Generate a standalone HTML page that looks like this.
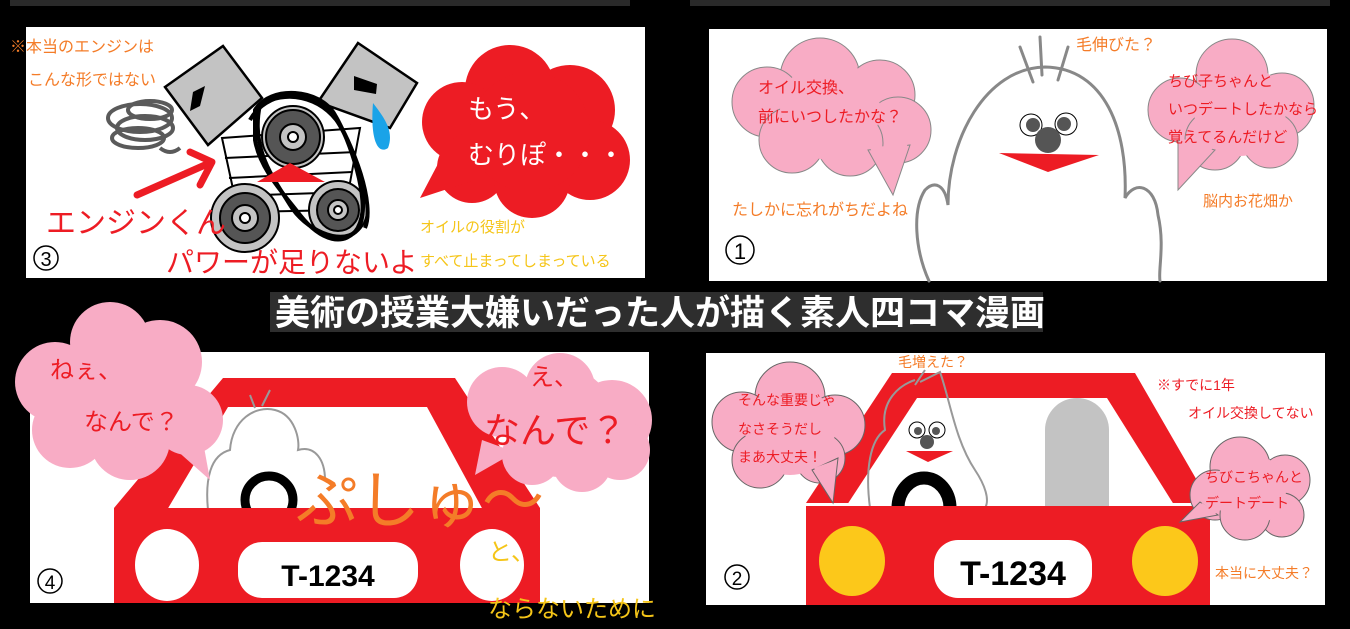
<!DOCTYPE html>
<html><head><meta charset="utf-8"><style>
html,body{margin:0;padding:0;background:#000;}
svg{display:block}
text{font-family:"Liberation Sans","Noto Sans CJK JP",sans-serif;}
</style></head><body>
<svg width="1350" height="629" viewBox="0 0 1350 629" xmlns="http://www.w3.org/2000/svg">
<rect width="1350" height="629" fill="#000"/>
<rect x="10" y="0" width="620" height="6" fill="#2a2a2a"/>
<rect x="690" y="0" width="640" height="6" fill="#2a2a2a"/>
<rect x="26" y="27" width="619" height="251" fill="#fff"/>
<rect x="709" y="29" width="618" height="252" fill="#fff"/>
<rect x="30" y="352" width="619" height="251" fill="#fff"/>
<rect x="706" y="353" width="619" height="252" fill="#fff"/>

<!-- ===== Panel 3 ===== -->
<text x="10" y="52" font-size="16" fill="#f47c28">※本当のエンジンは</text>
<text x="28" y="85" font-size="16" fill="#f47c28">こんな形ではない</text>
<g fill="none" stroke="#5a5a5a" stroke-width="4">
<ellipse cx="140" cy="118" rx="32" ry="14"/>
<ellipse cx="145" cy="128" rx="28" ry="12"/>
<ellipse cx="138" cy="138" rx="26" ry="10"/>
<ellipse cx="150" cy="110" rx="22" ry="9"/>
<path d="M160,148 q10,8 20,0"/>
</g>
<polygon points="222,138 360,128 345,210 238,212" fill="#fff" stroke="#000" stroke-width="2"/>
<g stroke="#000" stroke-width="2"><line x1="225" y1="158" x2="356" y2="152"/><line x1="229" y1="178" x2="352" y2="172"/><line x1="233" y1="196" x2="349" y2="192"/></g>
<polygon points="223,46 262,98 208,145 165,87" fill="#c3c3c3" stroke="#000" stroke-width="2.5"/>
<polygon points="358,43 417,83 390,128 318,102" fill="#c3c3c3" stroke="#000" stroke-width="2.5"/>
<path d="M193,92 L205,86 L200,106 L190,111 Z" fill="#000"/>
<path d="M354,76 L377,84 L376,94 L354,90 Z" fill="#000"/>
<path d="M373,103 C382,115 395,130 388,148 C378,155 370,140 373,103 Z" fill="#1aa3e8"/>
<g stroke="#000" stroke-width="2">
<circle cx="293" cy="137" r="31" fill="#c3c3c3"/><circle cx="293" cy="137" r="27" fill="#555"/><circle cx="293" cy="137" r="13" fill="#c3c3c3"/><circle cx="293" cy="137" r="5" fill="#fff"/>
<circle cx="245" cy="218" r="34" fill="#c3c3c3"/><circle cx="245" cy="218" r="25" fill="#555"/><circle cx="245" cy="218" r="13" fill="#c3c3c3"/><circle cx="245" cy="218" r="5" fill="#fff"/>
<circle cx="338" cy="210" r="29" fill="#c3c3c3"/><circle cx="338" cy="210" r="21" fill="#555"/><circle cx="338" cy="210" r="10" fill="#c3c3c3"/><circle cx="338" cy="210" r="4" fill="#fff"/>
</g>
<g fill="none" stroke="#000" stroke-width="4">
<path d="M255,110 C270,85 320,88 335,115 C350,140 370,200 360,225 C345,250 320,240 300,215 C285,195 260,170 255,140 Z"/>
<path d="M260,105 C285,90 320,95 340,125 C360,160 372,210 355,232 C340,245 305,230 290,205 C275,180 250,150 260,105"/>
<path d="M250,120 C265,92 310,85 330,110 C355,145 375,205 365,228"/>
</g>
<polygon points="257,182 325,182 290,163" fill="#ed1c24"/>
<line x1="137" y1="195" x2="205" y2="165" stroke="#ed1c24" stroke-width="7" stroke-linecap="round"/>
<polyline points="190,152 212,162 200,185" fill="none" stroke="#ed1c24" stroke-width="7" stroke-linecap="round" stroke-linejoin="round"/>
<g fill="#ed1c24">
<circle cx="510" cy="90" r="45"/><circle cx="570" cy="110" r="45"/><circle cx="462" cy="122" r="40"/><circle cx="590" cy="160" r="40"/><circle cx="472" cy="168" r="35"/><circle cx="532" cy="180" r="38"/><circle cx="530" cy="132" r="60"/>
<polygon points="440,160 475,180 420,198"/>
</g>
<text x="468" y="118" font-size="26" fill="#fff">もう、</text>
<text x="468" y="164" font-size="26" fill="#fff">むりぽ・・・</text>
<text x="46" y="233" font-size="30" fill="#ed1c24">エンジンくん</text>
<text x="166" y="272" font-size="28" fill="#ed1c24">パワーが足りないよ</text>
<text x="420" y="232" font-size="15" fill="#f5c518">オイルの役割が</text>
<text x="420" y="266" font-size="15" fill="#f5c518">すべて止まってしまっている</text>
<circle cx="46" cy="258" r="12" fill="#fff" stroke="#000" stroke-width="1.5"/>
<text x="46" y="266" font-size="20" text-anchor="middle" fill="#000">3</text>

<!-- ===== Panel 1 ===== -->
<g fill="#f8acc5" stroke="#888" stroke-width="1">
<circle cx="820" cy="78" r="40"/><circle cx="880" cy="95" r="35"/><circle cx="767" cy="102" r="35"/><circle cx="898" cy="130" r="33"/><circle cx="792" cy="140" r="33"/><circle cx="850" cy="143" r="33"/>
<polygon points="868,150 910,145 893,195"/>
</g>
<g fill="#f8acc5"><circle cx="830" cy="110" r="50"/><polygon points="870,148 908,143 892,188"/></g>
<text x="758" y="93" font-size="16" fill="#ed1c24">オイル交換、</text>
<text x="758" y="122" font-size="16" fill="#ed1c24">前にいつしたかな？</text>
<text x="732" y="215" font-size="16" fill="#f47c28">たしかに忘れがちだよね</text>
<g fill="none" stroke="#888" stroke-width="3" stroke-linecap="round">
<path d="M929,281 C915,250 912,210 925,190 C935,180 945,185 948,205 C948,140 985,68 1045,67 C1105,68 1128,130 1125,198 C1135,180 1155,185 1158,215 C1165,245 1158,270 1160,281"/>
<path d="M1040,37 L1042,75 M1020,47 L1033,82 M1068,47 L1058,80"/>
</g>
<circle cx="1031" cy="125" r="11" fill="#fff" stroke="#000" stroke-width="1"/><circle cx="1033" cy="125" r="7" fill="#555"/>
<circle cx="1066" cy="124" r="11" fill="#fff" stroke="#000" stroke-width="1"/><circle cx="1064" cy="124" r="7" fill="#555"/>
<circle cx="1048" cy="140" r="13" fill="#555"/>
<polygon points="999,153 1099,155 1048,172" fill="#ed1c24"/>
<text x="1076" y="50" font-size="16" fill="#f47c28">毛伸びた？</text>
<g fill="#f8acc5" stroke="#888" stroke-width="1">
<circle cx="1232" cy="75" r="36"/><circle cx="1282" cy="105" r="32"/><circle cx="1180" cy="110" r="32"/><circle cx="1215" cy="140" r="30"/><circle cx="1270" cy="140" r="28"/>
<polygon points="1178,140 1215,150 1178,190"/>
</g>
<g fill="#f8acc5"><circle cx="1240" cy="110" r="46"/><polygon points="1180,138 1213,148 1180,185"/></g>
<text x="1168" y="86" font-size="15" fill="#ed1c24">ちび子ちゃんと</text>
<text x="1168" y="114" font-size="15" fill="#ed1c24">いつデートしたかなら</text>
<text x="1168" y="142" font-size="15" fill="#ed1c24">覚えてるんだけど</text>
<text x="1203" y="206" font-size="15" fill="#f47c28">脳内お花畑か</text>
<circle cx="740" cy="250" r="14" fill="#fff" stroke="#000" stroke-width="1.5"/>
<text x="740" y="259" font-size="22" text-anchor="middle" fill="#000">1</text>

<rect x="270" y="292" width="773" height="40" fill="#2e2e2e"/>
<text x="275" y="325" font-size="35" font-weight="bold" fill="#fff">美術の授業大嫌いだった人が描く素人四コマ漫画</text>

<!-- ===== Panel 4 ===== -->
<polygon points="223,378 455,378 540,508 114,508" fill="#ed1c24"/>
<polygon points="228,407 427,407 483,510 167,510" fill="#fff"/>
<g fill="none" stroke="#999" stroke-width="2">
<path d="M208,510 C205,480 210,455 230,450 C232,420 255,405 275,410 C295,415 300,440 298,450 C315,445 325,460 325,480"/>
<path d="M255,408 L250,395 M262,406 L270,390"/>
</g>
<circle cx="269" cy="500" r="24" fill="none" stroke="#000" stroke-width="9"/>
<rect x="114" y="508" width="426" height="95" fill="#ed1c24"/>
<ellipse cx="167" cy="565" rx="32" ry="36" fill="#fff"/>
<ellipse cx="492" cy="565" rx="32" ry="36" fill="#fff"/>
<rect x="238" y="542" width="180" height="56" rx="24" fill="#fff"/>
<text x="328" y="586" font-size="30" font-weight="bold" text-anchor="middle" fill="#000">T-1234</text>
<g fill="#f8acc5">
<circle cx="110" cy="342" r="40"/><circle cx="160" cy="362" r="42"/><circle cx="55" cy="382" r="40"/><circle cx="188" cy="420" r="35"/><circle cx="70" cy="430" r="38"/><circle cx="130" cy="440" r="40"/><circle cx="120" cy="390" r="60"/>
<polygon points="165,440 200,425 210,480"/>
<circle cx="560" cy="388" r="35"/><circle cx="502" cy="402" r="35"/><circle cx="612" cy="420" r="40"/><circle cx="620" cy="450" r="30"/><circle cx="532" cy="455" r="30"/><circle cx="582" cy="462" r="30"/><circle cx="560" cy="422" r="55"/>
<polygon points="482,440 515,452 475,475"/>
</g>
<text x="50" y="378" font-size="24" fill="#ed1c24">ねぇ、</text>
<text x="84" y="430" font-size="24" fill="#ed1c24">なんで？</text>
<text x="530" y="385" font-size="24" fill="#ed1c24">え、</text>
<text x="484" y="443" font-size="36" fill="#ed1c24">なんで？</text>
<text x="296" y="522" font-size="62" fill="#f47c28">ぷしゅ〜</text>
<text x="488" y="560" font-size="24" fill="#f5c518">と、</text>
<text x="488" y="617" font-size="24" fill="#f5c518">ならないために</text>
<circle cx="50" cy="581" r="12" fill="#fff" stroke="#000" stroke-width="1.5"/>
<text x="50" y="589" font-size="19" text-anchor="middle" fill="#000">4</text>

<!-- ===== Panel 2 ===== -->
<polygon points="892,373 1135,373 1210,503 806,503" fill="#ed1c24"/>
<polygon points="917,398 1107,398 1176,508 845,508" fill="#fff"/>
<path d="M1045,508 L1045,430 A32,32 0 0 1 1109,430 L1109,508 Z" fill="#c3c3c3"/>
<path d="M870,508 C865,470 870,440 885,430 C880,400 900,385 915,380 M915,385 L925,370 M920,382 L940,372 C950,400 955,440 975,470 C985,485 990,500 985,508" fill="none" stroke="#999" stroke-width="2"/>
<circle cx="917" cy="430" r="8" fill="#fff" stroke="#000"/><circle cx="918" cy="431" r="4" fill="#555"/>
<circle cx="937" cy="430" r="8" fill="#fff" stroke="#000"/><circle cx="936" cy="431" r="4" fill="#555"/>
<circle cx="927" cy="442" r="7" fill="#555"/>
<polygon points="906,451 953,451 928,462" fill="#ed1c24"/>
<ellipse cx="924" cy="508" rx="26" ry="30" fill="none" stroke="#000" stroke-width="13"/>
<rect x="806" y="506" width="404" height="99" fill="#ed1c24"/>
<ellipse cx="852" cy="561" rx="33" ry="35" fill="#fcc81a"/>
<ellipse cx="1165" cy="561" rx="33" ry="35" fill="#fcc81a"/>
<rect x="934" y="540" width="158" height="58" rx="24" fill="#fff"/>
<text x="1013" y="585" font-size="34" font-weight="bold" text-anchor="middle" fill="#000">T-1234</text>
<g fill="#f8acc5" stroke="#666" stroke-width="1">
<circle cx="790" cy="397" r="35"/><circle cx="742" cy="422" r="30"/><circle cx="835" cy="425" r="30"/><circle cx="760" cy="460" r="28"/><circle cx="820" cy="458" r="25"/>
<polygon points="812,470 838,458 833,503"/>
<circle cx="1240" cy="467" r="30"/><circle cx="1285" cy="480" r="25"/><circle cx="1215" cy="495" r="25"/><circle cx="1282" cy="515" r="22"/><circle cx="1245" cy="515" r="25"/>
<polygon points="1200,502 1218,515 1180,522"/>
</g>
<g fill="#f8acc5"><circle cx="790" cy="430" r="45"/><polygon points="814,468 836,460 832,498"/><circle cx="1250" cy="490" r="36"/><polygon points="1202,503 1218,513 1185,520"/></g>
<text x="738" y="405" font-size="14" fill="#ed1c24">そんな重要じゃ</text>
<text x="738" y="434" font-size="14" fill="#ed1c24">なさそうだし</text>
<text x="738" y="462" font-size="14" fill="#ed1c24">まあ大丈夫！</text>
<text x="898" y="367" font-size="14" fill="#f47c28">毛増えた？</text>
<text x="1157" y="390" font-size="14" fill="#ed1c24">※すでに1年</text>
<text x="1188" y="418" font-size="14" fill="#ed1c24">オイル交換してない</text>
<text x="1205" y="482" font-size="14" fill="#ed1c24">ちびこちゃんと</text>
<text x="1205" y="508" font-size="14" fill="#ed1c24">デートデート</text>
<text x="1215" y="578" font-size="14" fill="#f47c28">本当に大丈夫？</text>
<circle cx="737" cy="577" r="12" fill="#fff" stroke="#000" stroke-width="1.5"/>
<text x="737" y="585" font-size="19" text-anchor="middle" fill="#000">2</text>
</svg>
</body></html>
